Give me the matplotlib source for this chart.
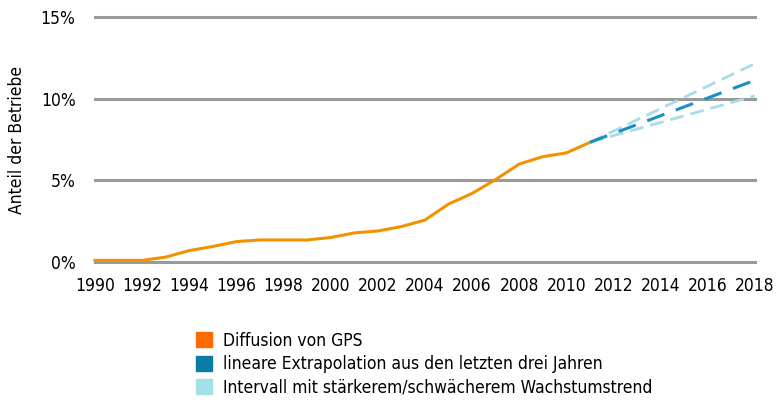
import matplotlib.pyplot as plt
from matplotlib.patches import Patch

# -------------------------------
# Data
# -------------------------------
years = list(range(1990, 2012))
gps = [0.1, 0.1, 0.1, 0.3, 0.7, 0.95, 1.25, 1.35, 1.35, 1.35, 1.5,
       1.78, 1.9, 2.17, 2.57, 3.55, 4.2, 5.05, 6.0, 6.45, 6.68, 7.33]

proj_years = [2011, 2018]
proj_mid = [7.33, 11.13]
proj_high = [7.33, 12.15]
proj_low = [7.33, 10.17]

xticks = list(range(1990, 2019, 2))
yticks = [0, 5, 10, 15]

legend_labels = ["Diffusion von GPS",
                 "lineare Extrapolation aus den letzten drei Jahren",
                 "Intervall mit stärkerem/schwächerem Wachstumstrend"]

# -------------------------------
# Style
# -------------------------------
plt.rcParams['font.family'] = ['DejaVu Sans']
plt.rcParams['font.stretch'] = 'condensed'
ORANGE = "#F39200"
ORANGE_LEG = "#FF6A00"
BLUE = "#1A8FC0"
BLUE_LEG = "#0B7BA6"
LIGHT = "#A9DCE8"
LIGHT_LEG = "#A3E0E8"
GRID = "#9A9A9A"
FS = 12.5

fig = plt.figure(figsize=(7.77, 4.03), dpi=100)
ax = fig.add_axes([95 / 777, 1 - 262 / 403, 660 / 777, 245 / 403])

for y in yticks:
    ax.axhline(y, color=GRID, lw=2.2, zorder=1, clip_on=False)

ax.plot(years, gps, color=ORANGE, lw=2.2, zorder=3, clip_on=False)
ax.plot(proj_years, proj_high, color=LIGHT, lw=2.0, ls=(0, (5, 2.5)), zorder=2, clip_on=False)
ax.plot(proj_years, proj_low, color=LIGHT, lw=2.0, ls=(0, (5, 2.5)), zorder=2, clip_on=False)
ax.plot(proj_years, proj_mid, color=BLUE, lw=2.2, ls=(0, (6, 4)), zorder=3, clip_on=False)

ax.set_xlim(1990, 2018)
ax.set_ylim(0, 15)
ax.set_xticks(xticks)
ax.set_xticklabels([str(x) for x in xticks], fontsize=FS)
ax.set_yticks(yticks)
ax.set_yticklabels([f"{y}%" for y in yticks], fontsize=FS)
ax.tick_params(axis='x', length=0, pad=11)
ax.tick_params(axis='y', length=0, pad=14)
for s in ax.spines.values():
    s.set_visible(False)
ax.set_ylabel("Anteil der Betriebe", fontsize=FS)
ax.yaxis.set_label_coords(-(95 - 17) / 660, 0.5)
ax.yaxis.label.set_va('center')

handles = [Patch(color=ORANGE_LEG), Patch(color=BLUE_LEG), Patch(color=LIGHT_LEG)]
fig.legend(handles, legend_labels, loc="upper left", bbox_to_anchor=(189 / 777, 1 - 325 / 403),
           frameon=False, fontsize=FS, handlelength=0.95, handleheight=0.95,
           handletextpad=0.6, labelspacing=0.3, borderaxespad=0)

fig.savefig("out.png", dpi=100)
